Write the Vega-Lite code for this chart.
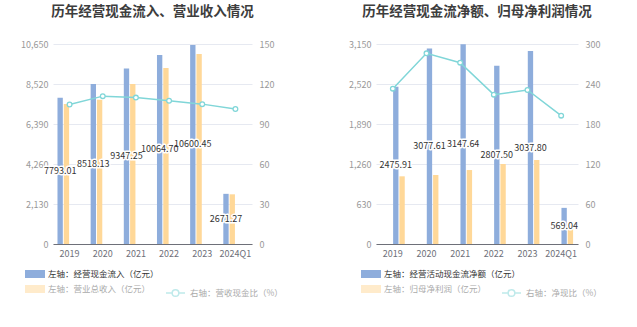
{
  "$schema": "https://vega.github.io/schema/vega-lite/v6.json",
  "padding": {"left": 0, "top": 4, "right": 0, "bottom": 0},
  "background": "white",
  "config": {
    "font": "Noto Sans CJK SC",
    "view": {"stroke": null},
    "title": {"fontSize": 13.5, "fontWeight": "bold", "color": "#3d3d3d", "anchor": "middle", "offset": 22, "font": "Noto Sans CJK SC"}
  },
  "spacing": 31,
  "datasets": {
    "lb": [
      {"period": "2019", "series": "左轴：经营现金流入（亿元）", "value": 7793.01},
      {"period": "2020", "series": "左轴：经营现金流入（亿元）", "value": 8518.13},
      {"period": "2021", "series": "左轴：经营现金流入（亿元）", "value": 9347.25},
      {"period": "2022", "series": "左轴：经营现金流入（亿元）", "value": 10064.70},
      {"period": "2023", "series": "左轴：经营现金流入（亿元）", "value": 10600.45},
      {"period": "2024Q1", "series": "左轴：经营现金流入（亿元）", "value": 2671.27},
      {"period": "2019", "series": "左轴：营业总收入（亿元）", "value": 7455},
      {"period": "2020", "series": "左轴：营业总收入（亿元）", "value": 7684},
      {"period": "2021", "series": "左轴：营业总收入（亿元）", "value": 8520},
      {"period": "2022", "series": "左轴：营业总收入（亿元）", "value": 9372},
      {"period": "2023", "series": "左轴：营业总收入（亿元）", "value": 10117},
      {"period": "2024Q1", "series": "左轴：营业总收入（亿元）", "value": 2646}
    ],
    "ll": [
      {"period": "2019", "series": "右轴：营收现金比（%）", "ratio": 104.6},
      {"period": "2020", "series": "右轴：营收现金比（%）", "ratio": 110.9},
      {"period": "2021", "series": "右轴：营收现金比（%）", "ratio": 109.8},
      {"period": "2022", "series": "右轴：营收现金比（%）", "ratio": 107.4},
      {"period": "2023", "series": "右轴：营收现金比（%）", "ratio": 104.9},
      {"period": "2024Q1", "series": "右轴：营收现金比（%）", "ratio": 101.2}
    ],
    "rb": [
      {"period": "2019", "series": "左轴：经营活动现金流净额（亿元）", "value": 2475.91},
      {"period": "2020", "series": "左轴：经营活动现金流净额（亿元）", "value": 3077.61},
      {"period": "2021", "series": "左轴：经营活动现金流净额（亿元）", "value": 3147.64},
      {"period": "2022", "series": "左轴：经营活动现金流净额（亿元）", "value": 2807.50},
      {"period": "2023", "series": "左轴：经营活动现金流净额（亿元）", "value": 3037.80},
      {"period": "2024Q1", "series": "左轴：经营活动现金流净额（亿元）", "value": 569.04},
      {"period": "2019", "series": "左轴：归母净利润（亿元）", "value": 1066},
      {"period": "2020", "series": "左轴：归母净利润（亿元）", "value": 1087},
      {"period": "2021", "series": "左轴：归母净利润（亿元）", "value": 1165},
      {"period": "2022", "series": "左轴：归母净利润（亿元）", "value": 1260},
      {"period": "2023", "series": "左轴：归母净利润（亿元）", "value": 1323},
      {"period": "2024Q1", "series": "左轴：归母净利润（亿元）", "value": 299}
    ],
    "rl": [
      {"period": "2019", "series": "右轴：净现比（%）", "ratio": 233},
      {"period": "2020", "series": "右轴：净现比（%）", "ratio": 286},
      {"period": "2021", "series": "右轴：净现比（%）", "ratio": 272},
      {"period": "2022", "series": "右轴：净现比（%）", "ratio": 224},
      {"period": "2023", "series": "右轴：净现比（%）", "ratio": 231},
      {"period": "2024Q1", "series": "右轴：净现比（%）", "ratio": 192.5}
    ]
  },
  "resolve": {
    "scale": {"color": "independent", "stroke": "independent"},
    "legend": {"color": "independent", "stroke": "independent"}
  },
  "hconcat": [
    {
      "width": 199,
      "height": 200,
      "title": {"text": "历年经营现金流入、营业收入情况"},
      "encoding": {
        "x": {
          "field": "period", "type": "nominal",
          "sort": ["2019", "2020", "2021", "2022", "2023", "2024Q1"],
          "scale": {"paddingInner": 0.27, "paddingOuter": 0.135},
          "axis": {"title": null, "labelAngle": 0, "ticks": false, "domainColor": "#6e7079", "labelColor": "#6e7079", "labelFontSize": 9, "labelPadding": 5}
        },
        "xOffset": {"field": "series", "type": "nominal", "scale": {"domain": ["左轴：经营现金流入（亿元）", "左轴：营业总收入（亿元）"], "paddingInner": 0.15}}
      },
      "layer": [
        {
          "data": {"name": "lb"},
          "mark": {"type": "bar"},
          "encoding": {
            "y": {
              "field": "value", "type": "quantitative",
              "scale": {"domain": [0, 10650], "nice": false},
              "axis": {"title": null, "values": [0, 2130, 4260, 6390, 8520, 10650], "format": ",.0f", "grid": true, "gridColor": "#e6e9f1", "domain": false, "ticks": false, "labelColor": "#999999", "labelFontSize": 9, "labelPadding": 5, "minExtent": 53, "maxExtent": 53}
            },
            "color": {
              "field": "series", "type": "nominal",
              "scale": {"domain": ["左轴：经营现金流入（亿元）", "左轴：营业总收入（亿元）"], "range": ["#8eaddc", "#ffd898"]},
              "legend": {
                "orient": "none", "legendX": -28, "legendY": 220, "direction": "vertical", "title": null, "padding": 0,
                "symbolType": "M-1,-0.4H1V0.4H-1Z", "symbolSize": 400, "symbolStrokeWidth": 0,
                "labelFontSize": 8.5, "labelOffset": 3, "rowPadding": -2, "labelColor": "#333333",
                "encode": {
                  "labels": {"update": {"fill": {"signal": "datum.index === 0 ? '#333333' : '#aaaaaa'"}}},
                  "symbols": {"update": {"opacity": {"signal": "datum.index === 0 ? 1 : 0.5"}}}
                }
              }
            }
          }
        },
        {
          "data": {"name": "lb"},
          "transform": [{"filter": "datum.series === '左轴：经营现金流入（亿元）'"}],
          "encoding": {
            "y": {"field": "value", "type": "quantitative", "scale": {"domain": [0, 21300], "nice": false}, "axis": null},
            "text": {"field": "value", "type": "quantitative", "format": ".2f"}
          },
          "layer": [
            {"mark": {"type": "text", "fontSize": 9, "fill": "white", "stroke": "white", "strokeWidth": 3, "strokeJoin": "round"}},
            {"mark": {"type": "text", "fontSize": 9, "fill": "#333333"}}
          ]
        },
        {
          "data": {"name": "ll"},
          "encoding": {
            "xOffset": null,
            "y": {
              "field": "ratio", "type": "quantitative",
              "scale": {"domain": [0, 150], "nice": false},
              "axis": {"title": null, "orient": "right", "values": [0, 30, 60, 90, 120, 150], "format": ".0f", "grid": false, "domain": false, "ticks": false, "labelColor": "#999999", "labelFontSize": 9, "labelPadding": 7, "minExtent": 40, "maxExtent": 40}
            },
            "stroke": {
              "field": "series", "type": "nominal",
              "scale": {"domain": ["右轴：营收现金比（%）"], "range": ["#80d6d8"]},
              "legend": {
                "orient": "none", "legendX": 112, "legendY": 238.5, "title": null, "padding": 0,
                "symbolType": "M-1,0H-0.35M0.35,0H1M0.35,0A0.35,0.35 0 1,1 -0.35,0A0.35,0.35 0 1,1 0.35,0",
                "symbolSize": 361, "symbolStrokeWidth": 1.5, "symbolFillColor": "white", "symbolOpacity": 0.5,
                "labelFontSize": 8.5, "labelOffset": 4, "labelColor": "#aaaaaa"
              }
            }
          },
          "layer": [
            {"mark": {"type": "line", "strokeWidth": 1.5}},
            {"mark": {"type": "point", "filled": true, "fill": "white", "size": 22, "strokeWidth": 1.3, "opacity": 1}}
          ]
        }
      ],
      "resolve": {"scale": {"y": "independent"}}
    },
    {
      "width": 202,
      "height": 200,
      "title": {"text": "历年经营现金流净额、归母净利润情况"},
      "encoding": {
        "x": {
          "field": "period", "type": "nominal",
          "sort": ["2019", "2020", "2021", "2022", "2023", "2024Q1"],
          "scale": {"paddingInner": 0.27, "paddingOuter": 0.135},
          "axis": {"title": null, "labelAngle": 0, "ticks": false, "domainColor": "#6e7079", "labelColor": "#6e7079", "labelFontSize": 9, "labelPadding": 5}
        },
        "xOffset": {"field": "series", "type": "nominal", "scale": {"domain": ["左轴：经营活动现金流净额（亿元）", "左轴：归母净利润（亿元）"], "paddingInner": 0.15}}
      },
      "layer": [
        {
          "data": {"name": "rb"},
          "mark": {"type": "bar"},
          "encoding": {
            "y": {
              "field": "value", "type": "quantitative",
              "scale": {"domain": [0, 3150], "nice": false},
              "axis": {"title": null, "values": [0, 630, 1260, 1890, 2520, 3150], "format": ",.0f", "grid": true, "gridColor": "#e6e9f1", "domain": false, "ticks": false, "labelColor": "#999999", "labelFontSize": 9, "labelPadding": 5, "minExtent": 53, "maxExtent": 53}
            },
            "color": {
              "field": "series", "type": "nominal",
              "scale": {"domain": ["左轴：经营活动现金流净额（亿元）", "左轴：归母净利润（亿元）"], "range": ["#8eaddc", "#ffd898"]},
              "legend": {
                "orient": "none", "legendX": -15, "legendY": 220, "direction": "vertical", "title": null, "padding": 0,
                "symbolType": "M-1,-0.4H1V0.4H-1Z", "symbolSize": 400, "symbolStrokeWidth": 0,
                "labelFontSize": 8.5, "labelOffset": 3, "rowPadding": -2, "labelColor": "#333333",
                "encode": {
                  "labels": {"update": {"fill": {"signal": "datum.index === 0 ? '#333333' : '#aaaaaa'"}}},
                  "symbols": {"update": {"opacity": {"signal": "datum.index === 0 ? 1 : 0.5"}}}
                }
              }
            }
          }
        },
        {
          "data": {"name": "rb"},
          "transform": [{"filter": "datum.series === '左轴：经营活动现金流净额（亿元）'"}],
          "encoding": {
            "y": {"field": "value", "type": "quantitative", "scale": {"domain": [0, 6300], "nice": false}, "axis": null},
            "text": {"field": "value", "type": "quantitative", "format": ".2f"}
          },
          "layer": [
            {"mark": {"type": "text", "fontSize": 9, "fill": "white", "stroke": "white", "strokeWidth": 3, "strokeJoin": "round"}},
            {"mark": {"type": "text", "fontSize": 9, "fill": "#333333"}}
          ]
        },
        {
          "data": {"name": "rl"},
          "encoding": {
            "xOffset": null,
            "y": {
              "field": "ratio", "type": "quantitative",
              "scale": {"domain": [0, 300], "nice": false},
              "axis": {"title": null, "orient": "right", "values": [0, 60, 120, 180, 240, 300], "format": ".0f", "grid": false, "domain": false, "ticks": false, "labelColor": "#999999", "labelFontSize": 9, "labelPadding": 7, "minExtent": 40, "maxExtent": 40}
            },
            "stroke": {
              "field": "series", "type": "nominal",
              "scale": {"domain": ["右轴：净现比（%）"], "range": ["#80d6d8"]},
              "legend": {
                "orient": "none", "legendX": 125, "legendY": 238.5, "title": null, "padding": 0,
                "symbolType": "M-1,0H-0.35M0.35,0H1M0.35,0A0.35,0.35 0 1,1 -0.35,0A0.35,0.35 0 1,1 0.35,0",
                "symbolSize": 361, "symbolStrokeWidth": 1.5, "symbolFillColor": "white", "symbolOpacity": 0.5,
                "labelFontSize": 8.5, "labelOffset": 4, "labelColor": "#aaaaaa"
              }
            }
          },
          "layer": [
            {"mark": {"type": "line", "strokeWidth": 1.5}},
            {"mark": {"type": "point", "filled": true, "fill": "white", "size": 22, "strokeWidth": 1.3, "opacity": 1}}
          ]
        }
      ],
      "resolve": {"scale": {"y": "independent"}}
    }
  ]
}
